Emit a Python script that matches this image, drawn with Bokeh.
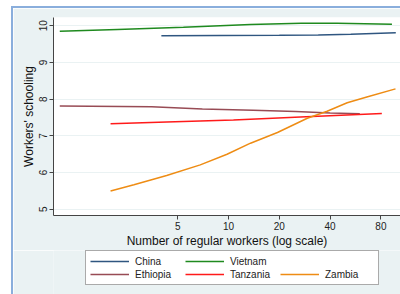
from bokeh.plotting import figure
from bokeh.layouts import column
from bokeh.models import Range1d, FixedTicker, Legend, LegendItem
from bokeh.embed import file_html
from bokeh.resources import INLINE

# ---- data ----
china_x = [4, 20, 34, 53, 98]
china_y = [9.73, 9.74, 9.75, 9.77, 9.81]

vietnam_x = [1, 2.2, 5.4, 13.5, 27, 44, 93]
vietnam_y = [9.85, 9.90, 9.96, 10.03, 10.07, 10.07, 10.04]

ethiopia_x = [1, 3.5, 7, 14, 25, 40, 60]
ethiopia_y = [7.81, 7.79, 7.73, 7.70, 7.66, 7.62, 7.60]

tanzania_x = [2, 4.3, 10.7, 26.7, 81]
tanzania_y = [7.33, 7.38, 7.43, 7.51, 7.61]

zambia_x = [2, 2.75, 4.3, 6.8, 9.8, 13.5, 19.5, 29.3, 38.4, 50.5, 66, 97.6]
zambia_y = [5.50, 5.67, 5.92, 6.21, 6.50, 6.80, 7.09, 7.48, 7.67, 7.90, 8.06, 8.28]

names = ["China", "Vietnam", "Ethiopia", "Tanzania", "Zambia"]
colors = ["#2f5680", "#1f8a1f", "#984b55", "#ff1a1a", "#ee8c14"]

x_ticks = [5, 10, 20, 40, 80]
x_tick_labels = ["5", "10", "20", "40", "80"]
y_ticks = [5, 6, 7, 8, 9, 10]

FONT = "Liberation Sans"
BG = "#EAF2F3"

p = figure(width=387, height=242, x_axis_type="log",
           x_range=Range1d(0.918, 104.5), y_range=Range1d(4.83, 10.224),
           output_backend="svg", toolbar_location=None,
           min_border_left=40, min_border_right=0, min_border_top=9,
           min_border_bottom=33,
           background_fill_color="white", border_fill_color=BG,
           outline_line_color=None)

xs_all = [china_x, vietnam_x, ethiopia_x, tanzania_x, zambia_x]
ys_all = [china_y, vietnam_y, ethiopia_y, tanzania_y, zambia_y]
for xs, ys, col in zip(xs_all, ys_all, colors):
    p.line(xs, ys, line_color=col, line_width=1.5)

# axes
for ax in (p.xaxis[0], p.yaxis[0]):
    ax.axis_line_color = "#444444"
    ax.major_tick_line_color = "#444444"
    ax.major_tick_out = 4
    ax.major_tick_in = 0
    ax.minor_tick_line_color = None
    ax.major_label_text_font = FONT
    ax.major_label_text_font_size = "10px"
    ax.major_label_text_color = "#222222"
    ax.axis_label_text_font = FONT
    ax.axis_label_text_font_size = "12px"
    ax.axis_label_text_font_style = "normal"
    ax.axis_label_text_color = "#111111"
    ax.major_label_standoff = 2
    ax.axis_label_standoff = 1

p.xaxis.ticker = FixedTicker(ticks=x_ticks)
p.xaxis.major_label_overrides = {t: l for t, l in zip(x_ticks, x_tick_labels)}
p.yaxis.ticker = FixedTicker(ticks=y_ticks)
p.yaxis.major_label_orientation = "vertical"
p.xaxis.axis_label = "Number of regular workers (log scale)"
p.yaxis.axis_label = "Workers' schooling"

p.xgrid.visible = False
p.ygrid.grid_line_color = BG
p.ygrid.grid_line_width = 1
p.ygrid.ticker = FixedTicker(ticks=y_ticks)

# legend strip (second figure directly below the plot); its lines lie
# outside its view range, so only the legend shows
q = figure(width=387, height=44, output_backend="svg", toolbar_location=None,
           x_range=Range1d(1000, 1001), y_range=Range1d(1000, 1001),
           min_border=0, min_border_left=0, min_border_right=0,
           min_border_top=0, min_border_bottom=0,
           x_axis_location=None, y_axis_location=None,
           background_fill_color=BG, border_fill_color=BG,
           outline_line_color=None)
q.xgrid.visible = False
q.ygrid.visible = False
proxy = {}
for name, xs, ys, col in zip(names, xs_all, ys_all, colors):
    proxy[name] = q.line(xs, ys, line_color=col, line_width=1.5)
blank = q.line(china_x, china_y, line_alpha=0)

items = [
    LegendItem(label="China", renderers=[proxy["China"]]),
    LegendItem(label="Vietnam", renderers=[proxy["Vietnam"]]),
    LegendItem(label=" ", renderers=[blank]),
    LegendItem(label="Ethiopia", renderers=[proxy["Ethiopia"]]),
    LegendItem(label="Tanzania", renderers=[proxy["Tanzania"]]),
    LegendItem(label="Zambia", renderers=[proxy["Zambia"]]),
]
legend = Legend(items=items, orientation="horizontal", ncols=3,
                location=(32, 9),
                label_text_font=FONT, label_text_font_size="10px",
                label_text_color="#222222",
                glyph_width=39, glyph_height=12, label_height=12,
                label_standoff=6, label_width=49, spacing=1,
                padding=4, margin=0,
                border_line_color="#555555", border_line_width=1,
                background_fill_color="white", background_fill_alpha=1)
q.add_layout(legend, "center")

layout = column(p, q, spacing=0,
                styles={"margin-left": "11px", "margin-top": "6px",
                        "border-left": "2px solid #8AAEDC",
                        "border-top": "2px solid #8AAEDC"})

open("out.html", "w").write(file_html(layout, INLINE))
